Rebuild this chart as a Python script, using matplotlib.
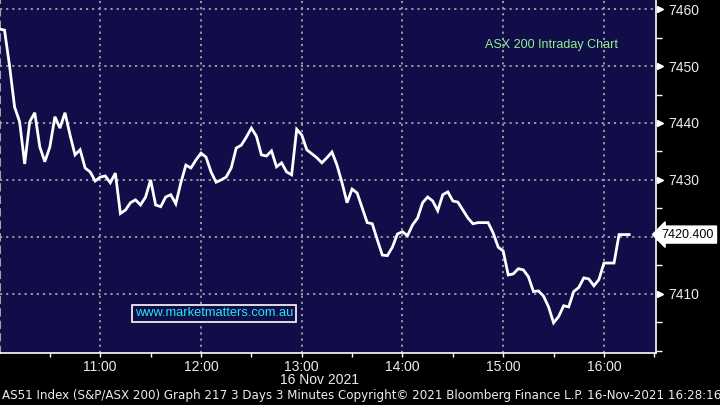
import matplotlib
matplotlib.use("Agg")
import matplotlib.pyplot as plt
from matplotlib.ticker import FixedLocator, FuncFormatter, MultipleLocator
import matplotlib.transforms as mtransforms

# ---- data (ASX 200, 3-minute bars from 10:00, 16 Nov 2021) ----
start_minute = 0          # 10:00
interval_min = 3
prices = [
    7456.5, 7456.3, 7450.0, 7442.8, 7440.2, 7432.8, 7440.2, 7441.8, 7435.8, 7433.2,
    7435.8, 7441.1, 7439.1, 7441.8, 7437.9, 7434.4, 7435.3, 7432.1, 7431.4, 7429.8,
    7430.5, 7430.7, 7429.5, 7431.2, 7424.1, 7424.7, 7426.0, 7426.5, 7425.6, 7427.0,
    7430.0, 7425.6, 7425.3, 7427.0, 7427.4, 7425.8, 7429.5, 7432.6, 7432.1, 7433.5,
    7434.7, 7434.0, 7431.4, 7429.6, 7430.0, 7430.5, 7432.1, 7435.6, 7436.1, 7437.5,
    7439.1, 7437.7, 7434.4, 7434.2, 7435.1, 7432.3, 7433.0, 7431.4, 7430.9, 7438.9,
    7437.9, 7435.3, 7434.6, 7433.9, 7433.0, 7433.9, 7434.9, 7432.6, 7429.5, 7426.0,
    7428.4, 7427.7, 7425.1, 7422.5, 7422.3, 7419.5, 7416.8, 7416.7, 7418.2, 7420.5,
    7420.9, 7420.2, 7422.1, 7423.3, 7426.0, 7427.0, 7426.3, 7424.6, 7427.4, 7427.9,
    7426.3, 7426.1, 7424.7, 7423.3, 7422.3, 7422.5, 7422.5, 7422.5, 7420.7, 7418.2,
    7417.5, 7413.3, 7413.5, 7414.4, 7414.2, 7413.0, 7410.4, 7410.5, 7409.6, 7407.7,
    7404.9, 7406.0, 7407.9, 7407.7, 7410.4, 7411.1, 7412.8, 7412.6, 7411.4, 7412.5,
    7415.4, 7415.4, 7415.4, 7420.4, 7420.4, 7420.4,
]
last_price = 7420.400
y_ticks = [7410, 7420, 7430, 7440, 7450, 7460]
hidden_y_label = 7420      # covered by the last-price tag
x_tick_hours = [11, 12, 13, 14, 15, 16]
date_label = "16 Nov 2021"
title_text = "ASX 200 Intraday Chart"
watermark = "www.marketmatters.com.au"
footer = ("AS51 Index (S&P/ASX 200) Graph 217 3 Days 3 Minutes Copyright\u00a9 2021 "
          "Bloomberg Finance L.P. 16-Nov-2021 16:28:16")

minutes = [start_minute + i * interval_min for i in range(len(prices))]

BG = "#100d49"
GRID = "#a3a3a3"
TXT = "#ececec"
SANS = ["Liberation Sans", "DejaVu Sans"]

fig = plt.figure(figsize=(7.2, 4.05), dpi=100, facecolor="black")
ax = fig.add_axes([0.0, 1 - 353 / 405, 656 / 720, 353 / 405])
ax.set_facecolor(BG)

ax.plot(minutes, prices, color="white", lw=2.0, solid_joinstyle="miter", zorder=3)

ax.set_xlim(0.3, 391)
ax.set_ylim(7399.6, 7461.6)

# x axis
ax.xaxis.set_major_locator(FixedLocator([(h - 10) * 60 for h in x_tick_hours]))
ax.xaxis.set_minor_locator(FixedLocator([30 + 60 * k for k in range(7)]))
ax.xaxis.set_major_formatter(FuncFormatter(lambda v, p: f"{10 + int(v) // 60}:{int(v) % 60:02d}"))
ax.tick_params(axis="x", which="both", colors="white", labelcolor=TXT, labelsize=10,
               direction="out", length=3, width=1, pad=2)
for lab in ax.get_xticklabels():
    lab.set_family(SANS)

# y axis on the right
ax.yaxis.tick_right()
ax.yaxis.set_major_locator(FixedLocator(y_ticks))
ax.yaxis.set_minor_locator(MultipleLocator(5))
ax.yaxis.set_major_formatter(FuncFormatter(
    lambda v, p: "" if abs(v - hidden_y_label) < 1e-6 else f"{v:.0f}"))
ax.tick_params(axis="y", which="major", colors="white", labelcolor=TXT, labelsize=10,
               length=0, pad=9)
ax.tick_params(axis="y", which="minor", colors="white", length=4, width=1)
for lab in ax.get_yticklabels():
    lab.set_family(SANS)

# triangles at major y ticks
trans = mtransforms.blended_transform_factory(ax.transAxes, ax.transData)
ax.plot([1.006] * len(y_ticks), y_ticks, linestyle="none", marker=">", markersize=5,
        color="white", transform=trans, clip_on=False, zorder=5)

# grid
ax.grid(True, which="major", color=GRID, linestyle=(0, (1.2, 2.2)), linewidth=1.3)

ax.spines["top"].set_visible(False)
ax.spines["right"].set_color("white")
ax.spines["right"].set_linewidth(1.2)
ax.spines["bottom"].set_color("white")
ax.spines["bottom"].set_linewidth(1.2)
ax.spines["left"].set_color(GRID)
ax.spines["left"].set_linestyle((0, (3, 3)))
ax.spines["left"].set_linewidth(1.5)

# texts
ax.text(485 / 656, 1 - 45 / 353, title_text, transform=ax.transAxes, color="#8ef08e",
        fontsize=9, va="center", ha="left", family=SANS)
ax.text(135 / 656, 1 - 313.5 / 353, watermark, transform=ax.transAxes, color="#22e6f5",
        fontsize=9.3, va="center", ha="left", family=SANS,
        bbox=dict(boxstyle="square,pad=0.2", facecolor=BG, edgecolor="white", linewidth=1.2))

ax.annotate(f"{last_price:.3f}", xy=(1.0, last_price), xycoords=trans,
            xytext=(714 / 656, last_price), textcoords=trans, fontsize=9, color="black",
            va="center", ha="right", annotation_clip=False, family=SANS,
            bbox=dict(boxstyle="larrow,pad=0.2", facecolor="white", edgecolor="white"))

fig.text(319 / 720, 1 - 380 / 405, date_label, color=TXT, fontsize=10, ha="center",
         va="center", family=SANS)
fig.text(2 / 720, 1 - 396 / 405, footer, color=TXT, fontsize=8.55, ha="left", va="center")

fig.savefig("out.png", dpi=100, facecolor="black")
